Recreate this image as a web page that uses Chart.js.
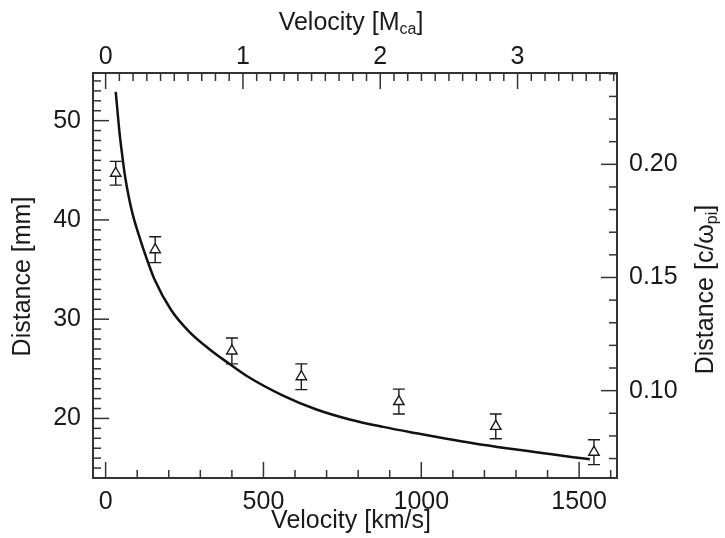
<!DOCTYPE html>
<html>
<head>
<meta charset="utf-8">
<script src="https://cdn.jsdelivr.net/npm/chart.js@4.4.1/dist/chart.umd.min.js"></script>
<style>
  html, body { margin: 0; padding: 0; background: #fff; }
  #container { width: 725px; height: 538px; position: relative; }
</style>
</head>
<body>
<div id="container"><canvas id="chart"></canvas></div>
<script>
// measured points (triangles) with error bars, in km/s and mm
const pointVelocity = [32, 157, 400, 620, 929, 1236, 1547];
const pointDistance = [44.7, 37.0, 26.8, 24.2, 21.7, 19.2, 16.6];
const pointError = [1.2, 1.3, 1.3, 1.3, 1.25, 1.25, 1.25];

// model curve
const curveVelocity = [32, 44, 53, 61, 74, 87, 110, 129, 155, 208, 266, 330, 383, 446, 562, 668, 773, 879, 985, 1080, 1164, 1270, 1376, 1481, 1534];
const curveDistance = [52.9, 48.8, 46.4, 44.5, 42.2, 40.4, 38.0, 36.2, 34.0, 30.9, 28.7, 26.95, 25.7, 24.3, 22.3, 20.9, 19.9, 19.15, 18.5, 17.95, 17.5, 17.0, 16.55, 16.1, 15.9];

// tick labels
const xTicks = [0, 500, 1000, 1500];
const xTopTicks = [0, 1, 2, 3];
const yTicks = [20, 30, 40, 50];
const yRightTicks = [0.10, 0.15, 0.20];

// axis relations
const kmsPerMca = 435;
const mmPerIonLength = 228;
const xMin = -40, xMax = 1620;
const yMin = 14, yMax = 54.8;

const FONT = "'Liberation Sans', Arial, Helvetica, sans-serif";
const INK = "#1a1a1a";

// ticks pointing into the plot, major + minor
function drawInTicks(ctx, scale, area, step, majors, side) {
    const lo = Math.min(scale.min, scale.max), hi = Math.max(scale.min, scale.max);
    for (let i = Math.ceil(lo / step - 1e-9); i * step <= hi + 1e-9; i++) {
        const v = i * step;
        const isMajor = majors.some(m => Math.abs(m - v) < step / 10);
        const len = isMajor ? 16 : 8;
        const p = scale.getPixelForValue(v);
        ctx.beginPath();
        if (side === "bottom") { ctx.moveTo(p, area.bottom); ctx.lineTo(p, area.bottom - len); }
        if (side === "top") { ctx.moveTo(p, area.top); ctx.lineTo(p, area.top + len); }
        if (side === "left") { ctx.moveTo(area.left, p); ctx.lineTo(area.left + len, p); }
        if (side === "right") { ctx.moveTo(area.right, p); ctx.lineTo(area.right - len, p); }
        ctx.stroke();
    }
}

// text with subscript parts, centered
function drawRich(ctx, parts, x, y, rot) {
    const big = "25px " + FONT, small = "16px " + FONT;
    let w = 0;
    parts.forEach(p => { ctx.font = p.sub ? small : big; w += ctx.measureText(p.text).width; });
    ctx.save();
    ctx.translate(x, y);
    ctx.rotate(rot);
    ctx.textBaseline = "middle";
    ctx.textAlign = "left";
    ctx.fillStyle = INK;
    let cx = -w / 2;
    parts.forEach(p => {
        ctx.font = p.sub ? small : big;
        ctx.fillText(p.text, cx, p.sub ? 7 : 0);
        cx += ctx.measureText(p.text).width;
    });
    ctx.restore();
}

const axisDecor = {
    id: "axisDecor",
    beforeDatasetsDraw(chart) {
        // error bars
        const ctx = chart.ctx, sx = chart.scales.x, sy = chart.scales.y;
        ctx.save();
        ctx.strokeStyle = INK;
        ctx.lineWidth = 1.4;
        pointVelocity.forEach((v, i) => {
            const px = sx.getPixelForValue(v);
            const top = sy.getPixelForValue(pointDistance[i] + pointError[i]);
            const bot = sy.getPixelForValue(pointDistance[i] - pointError[i]);
            ctx.beginPath();
            ctx.moveTo(px, top); ctx.lineTo(px, bot);
            ctx.moveTo(px - 6, top); ctx.lineTo(px + 6, top);
            ctx.moveTo(px - 6, bot); ctx.lineTo(px + 6, bot);
            ctx.stroke();
        });
        ctx.restore();
    },
    afterDraw(chart) {
        const ctx = chart.ctx, area = chart.chartArea, s = chart.scales;
        ctx.save();
        ctx.strokeStyle = "#333";
        ctx.lineWidth = 1.5;
        drawInTicks(ctx, s.x, area, 100, xTicks, "bottom");
        drawInTicks(ctx, s.x2, area, 0.1, xTopTicks, "top");
        drawInTicks(ctx, s.y, area, 1, yTicks, "left");
        drawInTicks(ctx, s.y2, area, 0.01, yRightTicks, "right");
        ctx.restore();

        const midX = (area.left + area.right) / 2;
        const midY = (area.top + area.bottom) / 2;
        drawRich(ctx, [{ text: "Velocity [km/s]" }], midX - 4, 521, 0);
        drawRich(ctx, [{ text: "Velocity [M" }, { text: "ca", sub: true }, { text: "]" }], midX - 4, 23, 0);
        drawRich(ctx, [{ text: "Distance [mm]" }], 23, midY + 1, -Math.PI / 2);
        drawRich(ctx, [{ text: "Distance [c/\u03c9" }, { text: "pi", sub: true }, { text: "]" }], 706, midY + 14, -Math.PI / 2);
    }
};

function axisOpts(extra) {
    return Object.assign({
        type: "linear",
        grid: { display: false, drawTicks: false },
        border: { display: true, width: 2, color: "#333" }
    }, extra);
}

function tickOpts(pad, cb) {
    return { color: INK, font: { family: FONT, size: 25 }, padding: pad, autoSkip: false, maxRotation: 0, includeBounds: false, callback: cb };
}

const ctx = document.getElementById("chart").getContext("2d");
new Chart(ctx, {
    type: "scatter",
    data: {
        datasets: [{
            label: "model",
            data: curveVelocity.map((v, i) => ({ x: v, y: curveDistance[i] })),
            showLine: true,
            borderColor: "#111",
            borderWidth: 2.5,
            pointRadius: 0,
            cubicInterpolationMode: "monotone",
            fill: false,
            xAxisID: "x",
            yAxisID: "y"
        }, {
            label: "measured",
            data: pointVelocity.map((v, i) => ({ x: v, y: pointDistance[i] })),
            showLine: false,
            pointStyle: "triangle",
            pointRadius: 6,
            backgroundColor: "#fff",
            borderColor: INK,
            borderWidth: 1.4,
            xAxisID: "x",
            yAxisID: "y"
        }]
    },
    options: {
        responsive: true,
        maintainAspectRatio: false,
        animation: false,
        layout: { padding: 0 },
        plugins: { legend: { display: false }, tooltip: { enabled: false } },
        scales: {
            x: axisOpts({
                position: "bottom", min: xMin, max: xMax,
                afterBuildTicks: s => { s.ticks = xTicks.map(v => ({ value: v })); },
                afterFit: s => { s.height = 60; },
                ticks: tickOpts(9, v => String(v))
            }),
            x2: axisOpts({
                position: "top", min: xMin / kmsPerMca, max: xMax / kmsPerMca,
                afterBuildTicks: s => { s.ticks = xTopTicks.map(v => ({ value: v })); },
                afterFit: s => { s.height = 73; },
                ticks: tickOpts(1, v => String(v))
            }),
            y: axisOpts({
                position: "left", min: yMin, max: yMax,
                afterBuildTicks: s => { s.ticks = yTicks.map(v => ({ value: v })); },
                afterFit: s => { s.width = 93; },
                ticks: tickOpts(12, v => String(v))
            }),
            y2: axisOpts({
                position: "right", min: yMin / mmPerIonLength, max: yMax / mmPerIonLength,
                afterBuildTicks: s => { s.ticks = yRightTicks.map(v => ({ value: v })); },
                afterFit: s => { s.width = 108; },
                ticks: tickOpts(12, v => v.toFixed(2))
            })
        }
    },
    plugins: [axisDecor]
});
</script>
</body>
</html>
